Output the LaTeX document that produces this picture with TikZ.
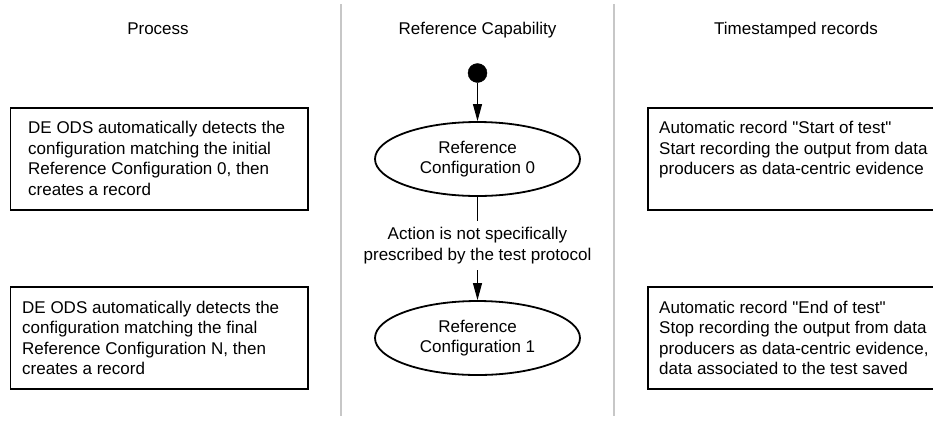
\documentclass[tikz,border=0pt]{standalone}
\usepackage{fontspec}
\setmainfont{Liberation Sans}
\usetikzlibrary{shapes.geometric,arrows.meta}
\tikzset{
  lane/.style={draw=black!22, line width=1.3pt},
  title/.style={anchor=base, inner sep=0pt},
  recbox/.style={draw, line width=1.8pt, minimum width=297.5pt, minimum height=102pt, inner sep=0pt, anchor=north west},
  boxtext/.style={anchor=north west, align=left, inner sep=0pt},
  state/.style={ellipse, draw, line width=1.8pt, minimum width=205pt, minimum height=74pt, inner sep=0pt, align=center},
  startdot/.style={circle, fill=black, draw=black, minimum size=19pt, inner sep=0pt},
  flow/.style={line width=1pt, -{Triangle[length=17pt,width=9pt]}},
  flowlabel/.style={fill=white, align=center, inner xsep=2pt, inner ysep=6.7pt},
}
\begin{document}
\begin{tikzpicture}[x=1pt, y=-1pt, font={\fontsize{17}{20.5}\selectfont}]
\clip (0,0) rectangle (933,421);
\fill[white] (0,0) rectangle (933,421);

% swimlane separators
\draw[lane] (341,4) -- (341,416);
\draw[lane] (614,4) -- (614,416);

% lane headings
\node[title] (hproc) at (158,34) {Process};
\node[title] (hcap) at (477.5,34) {Reference Capability};
\node[title] (hrec) at (796,34) {Timestamped records};

% process lane
\node[recbox] (lb1) at (9.5,107) {};
\node[boxtext] (lt1) at (28,121) {DE ODS automatically detects the\\configuration matching the initial\\Reference Configuration 0, then\\creates a record};
\node[recbox] (lb2) at (9.5,286) {};
\node[boxtext] (lt2) at (22,300.5) {DE ODS automatically detects the\\configuration matching the final\\Reference Configuration N, then\\creates a record};

% reference capability lane
\node[startdot] (start) at (477.5,73) {};
\node[state] (rc0) at (477.5,159) {Reference\\Configuration 0};
\node[state] (rc1) at (477.5,338) {Reference\\Configuration 1};
\draw[flow] (start) -- (rc0);
\draw[flow] (rc0) -- node[flowlabel, pos=0.47] (act) {Action is not specifically\\prescribed by the test protocol} (rc1);

% timestamped records lane
\node[recbox] (rb1) at (647,107) {};
\node[boxtext] (rt1) at (659,121) {Automatic record \textquotedbl Start of test\textquotedbl\\Start recording the output from data\\producers as data-centric evidence};
\node[recbox] (rb2) at (647,286) {};
\node[boxtext] (rt2) at (659,300.5) {Automatic record \textquotedbl End of test\textquotedbl\\Stop recording the output from data\\producers as data-centric evidence,\\data associated to the test saved};
\end{tikzpicture}
\end{document}
